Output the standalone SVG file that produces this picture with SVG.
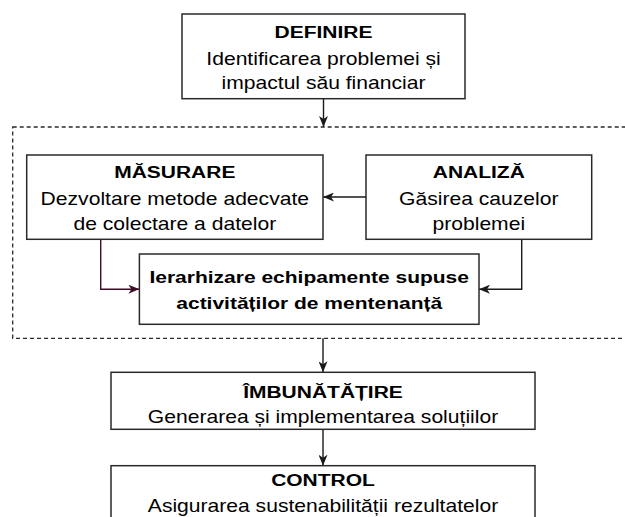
<svg xmlns="http://www.w3.org/2000/svg" width="625" height="517" viewBox="0 0 625 517">
  <style>
    .box { fill: #ffffff; stroke: #2a2a2a; stroke-width: 1.5; }
    .grp { fill: none; stroke: #2a2a2a; stroke-width: 1.3; stroke-dasharray: 4 3; }
    .edge { fill: none; stroke: #1a1a1a; stroke-width: 1.4; }
    .edge-m { fill: none; stroke: #3d0c26; stroke-width: 1.4; }
    text { font-family: "Liberation Sans", Arial, sans-serif; text-anchor: middle; fill: #000000; }
    .r { font-size: 18.6px; }
    .b { font-size: 17.4px; font-weight: bold; }
  </style>
  <defs>
    <marker id="arr" viewBox="0 0 11 9" refX="11" refY="4.5" markerWidth="11" markerHeight="9" markerUnits="userSpaceOnUse" orient="auto">
      <path d="M0,0 L11,4.5 L0,9 L3,4.5 Z" fill="#1a1a1a"/>
    </marker>
    <marker id="arr-m" viewBox="0 0 11 9" refX="11" refY="4.5" markerWidth="11" markerHeight="9" markerUnits="userSpaceOnUse" orient="auto">
      <path d="M0,0 L11,4.5 L0,9 L3,4.5 Z" fill="#3d0c26"/>
    </marker>
  </defs>

  <g id="group-box">
    <rect class="grp" x="12.7" y="127" width="640" height="211.3"/>
  </g>

  <g id="connectors">
    <line class="edge" x1="323.5" y1="98.7" x2="323.5" y2="127" marker-end="url(#arr)"/>
    <line class="edge" x1="366" y1="197" x2="323" y2="197" marker-end="url(#arr)"/>
    <polyline class="edge-m" points="100.7,239.3 100.7,289.2 139.4,289.2" marker-end="url(#arr-m)"/>
    <polyline class="edge" points="521.7,239.3 521.7,289.2 479,289.2" marker-end="url(#arr)"/>
    <line class="edge" x1="323" y1="338.3" x2="323" y2="372.3" marker-end="url(#arr)"/>
    <line class="edge" x1="323" y1="429.3" x2="323" y2="465.7" marker-end="url(#arr)"/>
  </g>

  <g id="definire">
    <rect class="box" x="182" y="14" width="283" height="84.7"/>
    <g transform="translate(323.5 0) scale(1.207 1)"><text class="b" x="0" y="38.3">DEFINIRE</text></g>
    <g transform="translate(323.5 0) scale(1.134 1)">
      <text class="r" x="0" y="65">Identificarea problemei și</text>
      <text class="r" x="0" y="89.3">impactul său financiar</text>
    </g>
  </g>

  <g id="masurare">
    <rect class="box" x="26.7" y="155" width="296.3" height="84.3"/>
    <g transform="translate(174.8 0) scale(1.207 1)"><text class="b" x="0" y="178.3">MĂSURARE</text></g>
    <g transform="translate(174.8 0) scale(1.134 1)">
      <text class="r" x="0" y="205">Dezvoltare metode adecvate</text>
      <text class="r" x="0" y="230">de colectare a datelor</text>
    </g>
  </g>

  <g id="analiza">
    <rect class="box" x="366" y="155" width="225.7" height="84.3"/>
    <g transform="translate(478.8 0) scale(1.207 1)"><text class="b" x="0" y="178.3">ANALIZĂ</text></g>
    <g transform="translate(478.8 0) scale(1.134 1)">
      <text class="r" x="0" y="205">Găsirea cauzelor</text>
      <text class="r" x="0" y="230">problemei</text>
    </g>
  </g>

  <g id="ierarhizare">
    <rect class="box" x="139.4" y="254" width="339.6" height="70.3"/>
    <g transform="translate(309.2 0) scale(1.207 1)">
      <text class="b" x="0" y="283.2">Ierarhizare echipamente supuse</text>
      <text class="b" x="0" y="309.2">activităților de mentenanță</text>
    </g>
  </g>

  <g id="imbunatatire">
    <rect class="box" x="111" y="372.3" width="424" height="57"/>
    <g transform="translate(323 0) scale(1.207 1)"><text class="b" x="0" y="398.3">ÎMBUNĂTĂȚIRE</text></g>
    <g transform="translate(323 0) scale(1.134 1)"><text class="r" x="0" y="422.7">Generarea și implementarea soluțiilor</text></g>
  </g>

  <g id="control">
    <rect class="box" x="111" y="465.7" width="424" height="70"/>
    <g transform="translate(323 0) scale(1.207 1)"><text class="b" x="0" y="485.7">CONTROL</text></g>
    <g transform="translate(323 0) scale(1.134 1)"><text class="r" x="0" y="511.7">Asigurarea sustenabilității rezultatelor</text></g>
  </g>
</svg>
